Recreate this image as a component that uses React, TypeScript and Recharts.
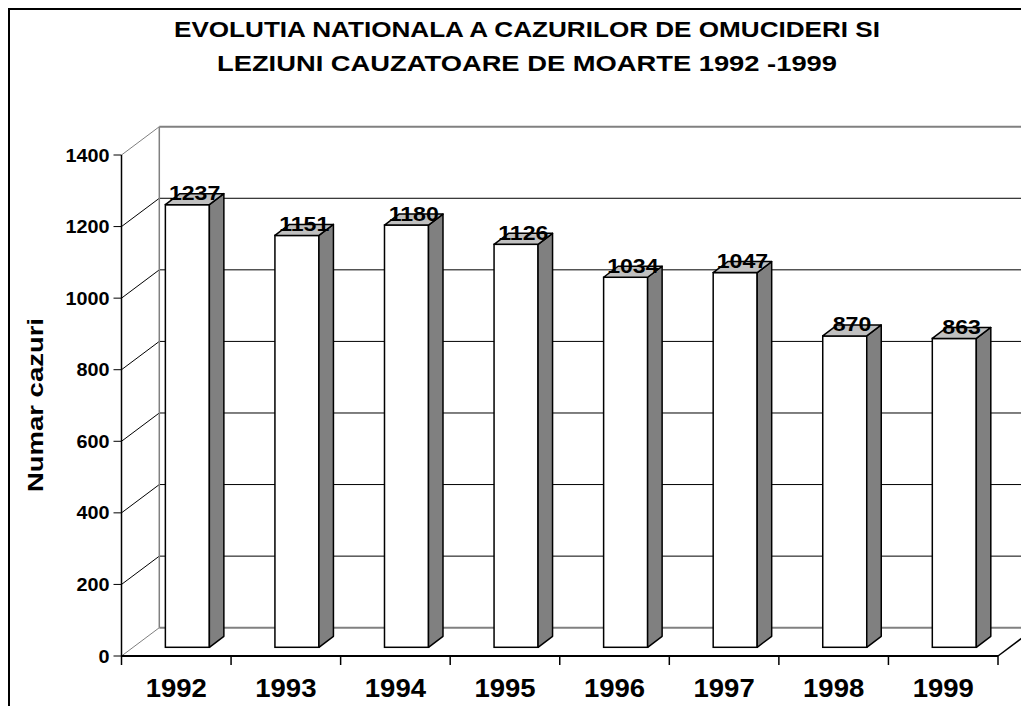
import React from 'react';
import { BarChart, Bar, XAxis, YAxis, CartesianGrid, ReferenceArea, LabelList } from 'recharts';

const years = ['1992', '1993', '1994', '1995', '1996', '1997', '1998', '1999'];
const cases = [1237, 1151, 1180, 1126, 1034, 1047, 870, 863];
const yTicks = [0, 200, 400, 600, 800, 1000, 1200, 1400];
const titleLines = [
  'EVOLUTIA NATIONALA A CAZURILOR DE OMUCIDERI SI',
  'LEZIUNI CAUZATOARE DE MOARTE 1992 -1999',
];
const yLabel = 'Numar cazuri';

const data = years.map((year, i) => ({ year, value: cases[i] }));

const FONT = 'Arial, "Liberation Sans", Helvetica, sans-serif';
const CHART_W = 1060;
const CHART_H = 720;
const MARGIN = { top: 147, right: 70, bottom: 12, left: 33.5 };
const Y_AXIS_W = 80;
const X_AXIS_H = 60;
const PLOT_W = CHART_W - MARGIN.left - Y_AXIS_W - MARGIN.right;

// 3D projection offsets
const BACK_DX = 37.8;
const BACK_DY = -28.3;
const BAR_DX = 11;
const BAR_DY = -8.7;
const DEPTH_DX = 14.5;
const DEPTH_DY = -11;

const Bar3D = (props: any) => {
  const { x, y, width, height } = props;
  if (width == null || height == null) return null;
  const fx = x + BAR_DX;
  const fy = y + BAR_DY;
  const w = width;
  const h = height;
  const top = `M${fx},${fy} L${fx + DEPTH_DX},${fy + DEPTH_DY} L${fx + w + DEPTH_DX},${fy + DEPTH_DY} L${fx + w},${fy} Z`;
  const side = `M${fx + w},${fy} L${fx + w + DEPTH_DX},${fy + DEPTH_DY} L${fx + w + DEPTH_DX},${fy + h + DEPTH_DY} L${fx + w},${fy + h} Z`;
  return (
    <g>
      <rect x={fx} y={fy} width={w} height={h} fill="#ffffff" stroke="#000" strokeWidth={1.5} />
      <path d={side} fill="#808080" stroke="#000" strokeWidth={1.5} strokeLinejoin="round" />
      <path d={top} fill="#c0c0c0" stroke="#000" strokeWidth={1.5} strokeLinejoin="round" />
    </g>
  );
};

const ValueLabel = (props: any) => {
  const { x, y, width, value } = props;
  const cx = x + width / 2 + BAR_DX + DEPTH_DX / 2;
  const by = y + BAR_DY - 4.5;
  return (
    <g transform={`translate(${cx},${by}) scale(1.1,1)`}>
      <text x={0} y={0} textAnchor="middle" fontFamily={FONT} fontWeight="bold" fontSize={21} fill="#000">
        {value}
      </text>
    </g>
  );
};

const XTick = (props: any) => {
  const { x, y, payload, index } = props;
  const half = payload && payload.offset > 0 ? payload.offset : PLOT_W / years.length / 2;
  const last = index === years.length - 1;
  return (
    <g>
      <line x1={x - half} y1={y} x2={x - half} y2={y + 9} stroke="#000" strokeWidth={1.5} />
      {last ? <line x1={x + half} y1={y} x2={x + half} y2={y + 9} stroke="#000" strokeWidth={1.5} /> : null}
      <g transform={`translate(${x},${y + 41}) scale(1.1,1)`}>
        <text x={0} y={0} textAnchor="middle" fontFamily={FONT} fontWeight="bold" fontSize={25} fill="#000">
          {payload.value}
        </text>
      </g>
    </g>
  );
};

const YTick = (props: any) => {
  const { x, y, payload } = props;
  return (
    <g transform={`translate(${x},${y + 6.5}) scale(1.1,1)`}>
      <text x={0} y={0} textAnchor="end" fontFamily={FONT} fontWeight="bold" fontSize={18} fill="#000">
        {payload.value}
      </text>
    </g>
  );
};

const GridLine = (p: any) => {
  const { x1, y1, x2, index, horizontalPoints } = p;
  let edge = false;
  if (Array.isArray(horizontalPoints) && horizontalPoints.length) {
    const mn = Math.min(...horizontalPoints);
    const mx = Math.max(...horizontalPoints);
    edge = Math.abs(y1 - mn) < 0.5 || Math.abs(y1 - mx) < 0.5;
  } else {
    edge = index === 0 || index === yTicks.length - 1;
  }
  const col = edge ? '#808080' : '#000';
  return (
    <g key={`g-${index}`}>
      <line x1={x1 + BACK_DX} y1={y1 + BACK_DY} x2={x2 + BACK_DX} y2={y1 + BACK_DY} stroke={col} strokeWidth={edge ? 2 : 1} />
      <line x1={x1} y1={y1} x2={x1 + BACK_DX} y2={y1 + BACK_DY} stroke={col} strokeWidth={1} />
    </g>
  );
};

const Frame = (p: any) => {
  const { x, y, width, height } = p;
  return (
    <g>
      <line x1={x + BACK_DX} y1={y + BACK_DY} x2={x + BACK_DX} y2={y + height + BACK_DY} stroke="#808080" strokeWidth={1.5} />
      <line x1={x + width} y1={y + height} x2={x + width + BACK_DX} y2={y + height + BACK_DY} stroke="#000" strokeWidth={1.5} />
    </g>
  );
};

export default function App() {
  return (
    <div style={{ width: 1021, height: 698, overflow: 'hidden', position: 'relative', background: '#fff' }}>
      <div style={{ position: 'absolute', left: 0, top: 0, width: 1200, height: 900, borderLeft: '2px solid #000', borderTop: '2px solid #000', boxSizing: 'border-box', pointerEvents: 'none' }} />
      <div style={{ position: 'absolute', left: 0, top: 0 }}>
        <BarChart width={CHART_W} height={CHART_H} data={data} margin={MARGIN} barCategoryGap="30%">
          <CartesianGrid horizontal={GridLine as any} vertical={false} />
          <ReferenceArea y1={0} y2={1400} shape={Frame as any} ifOverflow="visible" />
          <XAxis
            dataKey="year"
            height={X_AXIS_H}
            tickSize={0}
            tickMargin={0}
            tickLine={false}
            axisLine={{ stroke: '#000', strokeWidth: 2 }}
            tick={XTick as any}
            interval={0}
          />
          <YAxis
            width={Y_AXIS_W}
            domain={[0, 1400]}
            ticks={yTicks}
            interval={0}
            tickSize={8}
            tickMargin={4}
            tickLine={{ stroke: '#000', strokeWidth: 1 }}
            axisLine={{ stroke: '#000', strokeWidth: 1.5 }}
            tick={YTick as any}
          />
          <Bar dataKey="value" shape={Bar3D as any} isAnimationActive={false}>
            <LabelList dataKey="value" content={ValueLabel as any} />
          </Bar>
        </BarChart>
      </div>
      <svg width={1021} height={698} style={{ position: 'absolute', left: 0, top: 0, pointerEvents: 'none' }}>
        <text x={519} y={28.7} textAnchor="middle" fontFamily={FONT} fontWeight="bold" fontSize={22} textLength={706} lengthAdjust="spacingAndGlyphs" fill="#000">
          {titleLines[0]}
        </text>
        <text x={519} y={62.7} textAnchor="middle" fontFamily={FONT} fontWeight="bold" fontSize={22} textLength={620} lengthAdjust="spacingAndGlyphs" fill="#000">
          {titleLines[1]}
        </text>
        <text
          transform="translate(35,397) rotate(-90)"
          x={0}
          y={0}
          textAnchor="middle"
          fontFamily={FONT}
          fontWeight="bold"
          fontSize={22}
          textLength={174}
          lengthAdjust="spacingAndGlyphs"
          fill="#000"
        >
          {yLabel}
        </text>
      </svg>
    </div>
  );
}
